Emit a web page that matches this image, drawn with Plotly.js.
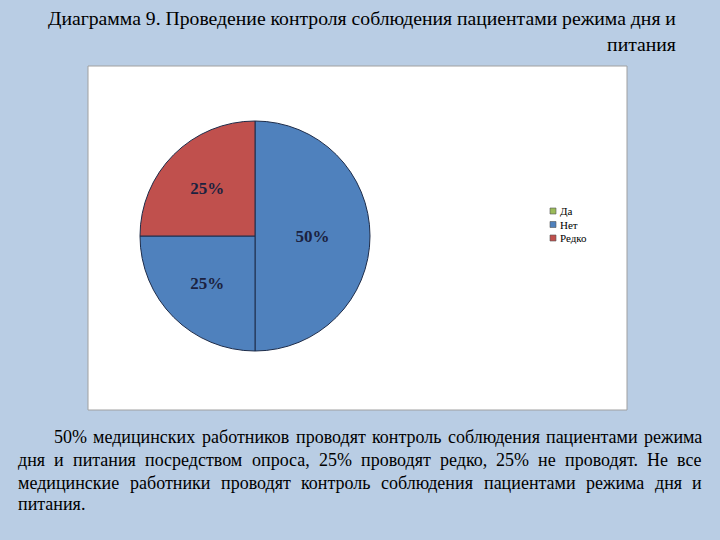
<!DOCTYPE html>
<html>
<head>
<meta charset="utf-8">
<script src="https://cdn.plot.ly/plotly-3.0.1.min.js"></script>
<style>html,body{margin:0;padding:0;background:#B9CDE4;}</style>
</head>
<body>
<div id="chart" style="width:720px;height:540px;"></div>
<script>
// Data
const sliceLabels = ['Да', 'Нет', 'Редко'];
const sliceValues = [50, 25, 25];
const sliceColors = ['#4F81BD', '#4F81BD', '#C0504D'];
const legendLabels = ['Да', 'Нет', 'Редко'];
const legendColors = ['#9BBB59', '#4F81BD', '#C0504D'];
const titleText = 'Диаграмма 9. Проведение контроля соблюдения пациентами режима дня и<br>питания';
const bodyLines = [
  '50% медицинских работников проводят контроль соблюдения пациентами режима',
  'дня и питания посредством опроса, 25% проводят редко, 25% не проводят. Не все',
  'медицинские работники проводят контроль соблюдения пациентами режима дня и',
  'питания.'
];

const W = 720, H = 540;
const px = x => x / W;
const py = y => 1 - y / H;
const SERIF = 'Liberation Serif';

const shapes = [{
  type: 'rect', xref: 'paper', yref: 'paper',
  x0: px(88), x1: px(627), y0: py(410), y1: py(66),
  fillcolor: '#FFFFFF', line: {color: '#A0A0A0', width: 1}, layer: 'below'
}];
const annotations = [{
  xref: 'paper', yref: 'paper', x: px(678), y: py(5), xanchor: 'right', yanchor: 'top',
  align: 'right', showarrow: false, text: titleText,
  font: {family: SERIF, size: 19.7, color: '#000'}
}];

const legY = [211, 224.5, 238];
legendLabels.forEach((lab, i) => {
  shapes.push({
    type: 'rect', xref: 'paper', yref: 'paper',
    x0: px(550), x1: px(556), y0: py(legY[i] + 3), y1: py(legY[i] - 3),
    fillcolor: legendColors[i], line: {color: '#555', width: 0.6}
  });
  annotations.push({
    xref: 'paper', yref: 'paper', x: px(557.5), y: py(legY[i]), xanchor: 'left', yanchor: 'middle',
    showarrow: false, text: lab,
    font: {family: SERIF, size: 11, color: '#000'}
  });
});

// justified body text: measure words and spread them between margins
const bodySize = 18;
const cv = document.createElement('canvas').getContext('2d');
cv.font = bodySize + 'px "' + SERIF + '"';
const lineX = [54, 18, 18, 18];
const lineRight = 702;
const lineY = [437, 460, 483, 504];
bodyLines.forEach((t, i) => {
  let words = t.split(' ');
  const justify = i < bodyLines.length - 1;
  let xs = [];
  if (justify && words.length > 1) {
    const widths = words.map(w => cv.measureText(w).width);
    const total = widths.reduce((a, b) => a + b, 0);
    const gap = (lineRight - lineX[i] - total) / (words.length - 1);
    let x = lineX[i];
    words.forEach((w, k) => { xs.push(x); x += widths[k] + gap; });
  } else {
    words = [t]; xs = [lineX[i]];
  }
  words.forEach((w, k) => {
    annotations.push({
      xref: 'paper', yref: 'paper', x: px(xs[k]), y: py(lineY[i]), xanchor: 'left', yanchor: 'middle',
      showarrow: false, text: w, borderpad: 0, borderwidth: 0,
      font: {family: SERIF, size: bodySize, color: '#000'}
    });
  });
});

const data = [{
  type: 'pie',
  labels: sliceLabels,
  values: sliceValues,
  marker: {colors: sliceColors, line: {color: '#1F2D4A', width: 1}},
  sort: false,
  direction: 'clockwise',
  rotation: 0,
  textinfo: 'percent',
  texttemplate: '%{percent:.0%}',
  textposition: 'inside',
  insidetextorientation: 'horizontal',
  textfont: {family: SERIF, size: 17, color: '#1B2240', weight: 'bold'},
  hoverinfo: 'label+percent',
  showlegend: false,
  domain: {x: [px(140), px(370)], y: [py(351), py(121)]}
}];

const layout = {
  width: W, height: H,
  margin: {l: 0, r: 0, t: 0, b: 0},
  paper_bgcolor: '#B9CDE4',
  plot_bgcolor: '#B9CDE4',
  showlegend: false,
  shapes: shapes,
  annotations: annotations
};

Plotly.newPlot('chart', data, layout, {displayModeBar: false, staticPlot: true});
</script>
</body>
</html>
